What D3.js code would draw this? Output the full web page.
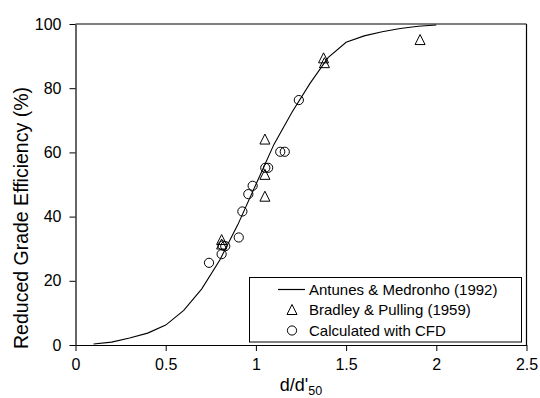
<!DOCTYPE html>
<html>
<head>
<meta charset="utf-8">
<script src="https://cdn.jsdelivr.net/npm/d3@7"></script>
<style>
  html, body { margin: 0; padding: 0; background: #fff; }
  svg { display: block; font-family: Arial, "Liberation Sans", sans-serif; }
</style>
</head>
<body>
<svg id="chart" width="540" height="398"></svg>
<script>
// ---- data ----
const curveX = [0.1, 0.2, 0.3, 0.4, 0.5, 0.6, 0.7, 0.8, 0.9, 1.0, 1.1, 1.2, 1.3, 1.4, 1.5, 1.6, 1.7, 1.8, 1.9, 2.0];
const curveY = [0.3, 0.9, 2.2, 3.7, 6.2, 10.8, 17.5, 26.5, 37.5, 50, 62.5, 72.5, 81.5, 89.5, 94.3, 96.3, 97.6, 98.6, 99.3, 99.7];

const bradleyX = [0.81, 0.81, 1.05, 1.05, 1.05, 1.375, 1.38, 1.91];
const bradleyY = [32.7, 31.3, 46.2, 53, 64, 89.3, 87.8, 95];

const cfdX = [0.74, 0.81, 0.815, 0.83, 0.905, 0.925, 0.958, 0.982, 1.052, 1.068, 1.135, 1.16, 1.238];
const cfdY = [25.6, 28.3, 31.0, 30.8, 33.5, 41.6, 47, 49.6, 55.2, 55.2, 60.2, 60.2, 76.3];

const xTicks = [0, 0.5, 1, 1.5, 2, 2.5];
const yTicks = [0, 20, 40, 60, 80, 100];
const legendLabels = ["Antunes & Medronho (1992)", "Bradley & Pulling (1959)", "Calculated with CFD"];

// ---- layout ----
const svg = d3.select("#chart");
const x = d3.scaleLinear().domain([0, 2.5]).range([75.5, 526.5]);
const y = d3.scaleLinear().domain([0, 100]).range([345, 24]);

// frame (top and right)
svg.append("line").attr("x1", x(0)).attr("x2", x(2.5)).attr("y1", y(100)).attr("y2", y(100))
  .attr("stroke", "#000").attr("stroke-width", 1.2);
svg.append("line").attr("x1", x(2.5)).attr("x2", x(2.5)).attr("y1", y(100)).attr("y2", y(0))
  .attr("stroke", "#000").attr("stroke-width", 1.2);

// axes
const xAxis = svg.append("g").attr("transform", `translate(0,${y(0)})`)
  .call(d3.axisBottom(x).tickValues(xTicks).tickSize(6).tickSizeOuter(0).tickPadding(8)
    .tickFormat(d => String(d)));
const yAxis = svg.append("g").attr("transform", `translate(${x(0)},0)`)
  .call(d3.axisLeft(y).tickValues(yTicks).tickSize(6).tickSizeOuter(0).tickPadding(8)
    .tickFormat(d => String(d)));
[xAxis, yAxis].forEach(g => {
  g.select(".domain").attr("stroke", "#000").attr("stroke-width", 1.2);
  g.selectAll(".tick line").attr("stroke", "#000");
  g.selectAll(".tick text").attr("fill", "#000").style("font-size", "16px")
    .style("font-family", "Arial, 'Liberation Sans', sans-serif");
});

// curve
const line = d3.line().x(d => x(d[0])).y(d => y(d[1]));
svg.append("path").datum(curveX.map((v, i) => [v, curveY[i]]))
  .attr("d", line).attr("fill", "none").attr("stroke", "#000").attr("stroke-width", 1.1);

// markers
function triPath(cx, cy, s) {
  const h = s * 0.9;
  return `M${cx},${cy - h / 2 - 1}L${cx + s / 2},${cy + h / 2}L${cx - s / 2},${cy + h / 2}Z`;
}
svg.append("g").selectAll("path").data(bradleyX.map((v, i) => [v, bradleyY[i]])).join("path")
  .attr("d", d => triPath(x(d[0]), y(d[1]), 10))
  .attr("fill", "none").attr("stroke", "#000").attr("stroke-width", 1);
svg.append("g").selectAll("circle").data(cfdX.map((v, i) => [v, cfdY[i]])).join("circle")
  .attr("cx", d => x(d[0])).attr("cy", d => y(d[1])).attr("r", 4.6)
  .attr("fill", "none").attr("stroke", "#000").attr("stroke-width", 1);

// axis titles
svg.append("text").attr("transform", `translate(28,218) rotate(-90)`)
  .attr("text-anchor", "middle").style("font-size", "19.5px").attr("fill", "#000")
  .text("Reduced Grade Efficiency (%)");
const xt = svg.append("text").attr("x", x(1.25)).attr("y", 391)
  .attr("text-anchor", "middle").style("font-size", "18px").attr("fill", "#000");
xt.append("tspan").text("d/d'");
xt.append("tspan").attr("dy", 4).style("font-size", "12.5px").text("50");

// legend
const lg = svg.append("g");
lg.append("rect").attr("x", 249.5).attr("y", 277.5).attr("width", 272).attr("height", 64.5)
  .attr("fill", "#fff").attr("stroke", "#000").attr("stroke-width", 1);
const rowY = [289.5, 310, 330.5];
lg.append("line").attr("x1", 278).attr("x2", 305).attr("y1", rowY[0]).attr("y2", rowY[0])
  .attr("stroke", "#000").attr("stroke-width", 1.2);
lg.append("path").attr("d", triPath(292, rowY[1], 10)).attr("fill", "none").attr("stroke", "#000");
lg.append("circle").attr("cx", 292).attr("cy", rowY[2]).attr("r", 4.6).attr("fill", "none").attr("stroke", "#000");
lg.selectAll("text.lbl").data(legendLabels).join("text").attr("class", "lbl")
  .attr("x", 309).attr("y", (d, i) => rowY[i]).attr("dy", "0.36em")
  .style("font-size", "15px").attr("fill", "#000").text(d => d);
</script>
</body>
</html>
